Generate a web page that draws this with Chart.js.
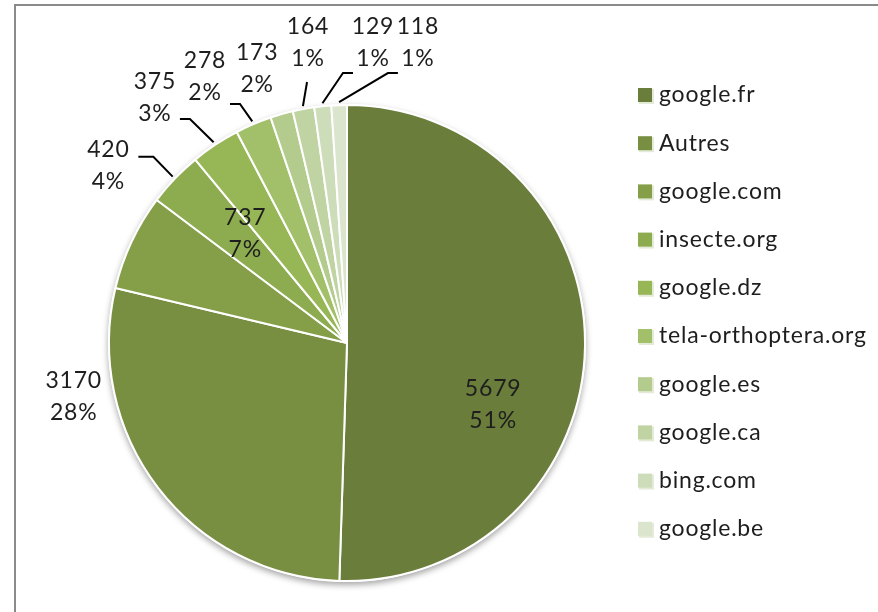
<!DOCTYPE html>
<html>
<head>
<meta charset="utf-8">
<script src="https://cdn.jsdelivr.net/npm/chart.js@4"></script>
<style>
  body { margin: 0; background: #fff; }
  #wrap { position: relative; width: 878px; height: 612px; overflow: hidden; }
  #frame { position: absolute; left: 14px; top: 4px; width: 1000px; height: 800px; border: 2px solid #8a8a8a; }
  canvas { position: absolute; left: 0; top: 0; }
</style>
</head>
<body>
<div id="wrap">
  <div id="frame"></div>
  <canvas id="pieChart" width="878" height="612"></canvas>
</div>
<script>
const sources = ['google.fr', 'Autres', 'google.com', 'insecte.org', 'google.dz',
                 'tela-orthoptera.org', 'google.es', 'google.ca', 'bing.com', 'google.be'];
const visits = [5679, 3170, 737, 420, 375, 278, 173, 164, 129, 118];
const percents = ['51%', '28%', '7%', '4%', '3%', '2%', '2%', '1%', '1%', '1%'];
const colors = ['#6a7d3b', '#788f41', '#849f48', '#8dab4f', '#97b656',
                '#a2c06a', '#b3cb8c', '#c0d4a3', '#cddcb9', '#dbe5cd'];

// where each label sits: angle (deg, clockwise from top) and distance / radius
// lead: start offset from label centre, then horizontal run, then to the pie edge
const labelLayout = [
    { a: 113, r: 0.667 },
    { a: 259, r: 1.17 },
    { a: 317, r: 0.627 },
    { a: 306.6, r: 1.249, lead: [30, -9, 15] },
    { a: 321.9, r: 1.308, lead: [25, 21, 10] },
    { a: 331.9, r: 1.267, lead: [25, 27, 10] },
    { a: 341.9, r: 1.215 },
    { a: 352.6, r: 1.271, lead: [-1, 39, 0] },
    { a: 4.95, r: 1.265, lead: [-20, 30, -10] },
    { a: 13.3, r: 1.295, lead: [-20, 30, -10] }
];

const FONT = '23px Lato, "Open Sans", sans-serif';
const SPACING = '0.8px';

const pieLabels = {
    id: 'pieLabels',
    beforeDatasetsDraw(chart) {
        // soft shadow under the pie
        const ctx = chart.ctx;
        const arc = chart.getDatasetMeta(0).data[0];
        const p = arc.getProps(['x', 'y', 'outerRadius'], true);
        ctx.save();
        ctx.shadowColor = 'rgba(0,0,0,0.35)';
        ctx.shadowBlur = 6;
        ctx.shadowOffsetY = 3;
        ctx.fillStyle = '#ffffff';
        ctx.beginPath();
        ctx.arc(p.x, p.y, p.outerRadius + 1, 0, Math.PI * 2);
        ctx.fill();
        ctx.restore();
    },
    afterDatasetsDraw(chart) {
        const ctx = chart.ctx;
        const meta = chart.getDatasetMeta(0);
        ctx.save();
        ctx.font = FONT;
        ctx.letterSpacing = SPACING;
        ctx.fillStyle = '#1e1e1e';
        ctx.textAlign = 'center';
        ctx.textBaseline = 'middle';
        meta.data.forEach((arc, i) => {
            const p = arc.getProps(['x', 'y', 'startAngle', 'endAngle', 'outerRadius'], true);
            const lay = labelLayout[i];
            const t = (lay.a - 90) * Math.PI / 180;
            const lx = p.x + Math.cos(t) * p.outerRadius * lay.r;
            const ly = p.y + Math.sin(t) * p.outerRadius * lay.r;
            ctx.fillText(String(visits[i]), lx, ly - 16);
            ctx.fillText(percents[i], lx, ly + 16);
            if (lay.lead) {
                const mid = (p.startAngle + p.endAngle) / 2;
                const ex = p.x + Math.cos(mid) * (p.outerRadius + 3);
                const ey = p.y + Math.sin(mid) * (p.outerRadius + 3);
                const sx = lx + lay.lead[0], sy = ly + lay.lead[1];
                ctx.beginPath();
                ctx.strokeStyle = '#000';
                ctx.lineWidth = 2;
                ctx.moveTo(sx, sy);
                ctx.lineTo(sx + lay.lead[2], sy);
                ctx.lineTo(ex, ey);
                ctx.stroke();
            }
        });
        ctx.restore();
    }
};

const sideLegend = {
    id: 'sideLegend',
    afterDraw(chart) {
        const ctx = chart.ctx;
        ctx.save();
        ctx.font = FONT;
        ctx.letterSpacing = SPACING;
        ctx.textBaseline = 'middle';
        ctx.textAlign = 'left';
        chart.data.labels.forEach((lab, i) => {
            const y = 95 + i * 48.2;
            ctx.fillStyle = '#e4ead8';
            ctx.fillRect(639, y - 6, 15, 15);
            ctx.fillStyle = chart.data.datasets[0].backgroundColor[i];
            ctx.fillRect(638, y - 7, 14, 14);
            ctx.fillStyle = '#1e1e1e';
            ctx.fillText(lab, 659, y);
        });
        ctx.restore();
    }
};

new Chart(document.getElementById('pieChart'), {
    type: 'pie',
    data: {
        labels: sources,
        datasets: [{
            data: visits,
            backgroundColor: colors,
            borderColor: '#ffffff',
            borderWidth: 2
        }]
    },
    options: {
        responsive: false,
        animation: false,
        layout: { padding: { left: 108, right: 292, top: 104, bottom: 30 } },
        plugins: {
            legend: { display: false },
            tooltip: { enabled: false }
        }
    },
    plugins: [pieLabels, sideLegend]
});
</script>
</body>
</html>
